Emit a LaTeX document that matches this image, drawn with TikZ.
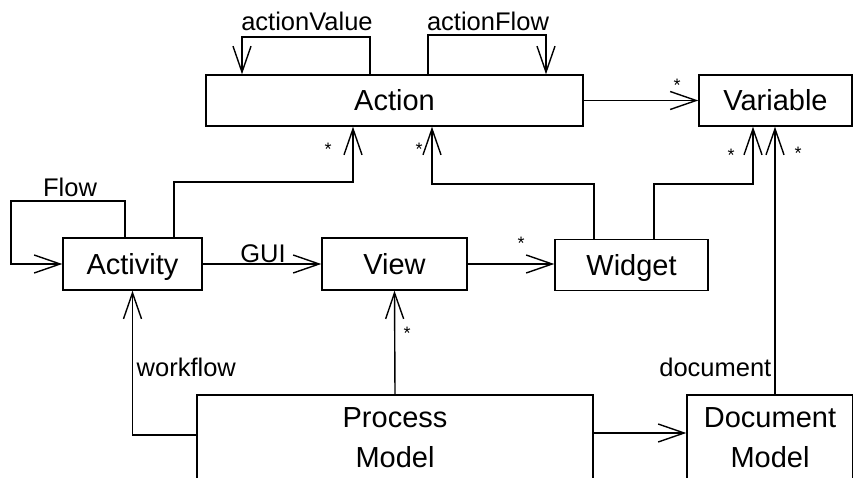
\documentclass[tikz,border=0pt]{standalone}
\usepackage{fontspec}
\setmainfont{Liberation Sans}
\usetikzlibrary{arrows.meta}
\begin{document}
\begin{tikzpicture}[x=1pt,y=-1pt,
  line width=1.4pt,
  box/.style={draw, rectangle, inner sep=0pt, font=\fontsize{29}{40}\selectfont, align=center},
  sline/.style={box, text height=20pt, text depth=0pt},
  arr/.style={-{Straight Barb[length=26pt,width=18pt,line width=1.4pt]}},
  lbl/.style={font=\fontsize{25.5}{28}\selectfont, inner sep=0pt},
  star/.style={font=\fontsize{18}{20}\selectfont, inner sep=0pt}]
\useasboundingbox (0,0) rectangle (853,478);
\clip (0,0) rectangle (853,478);
% boxes
\node[sline, minimum width=377pt, minimum height=51pt] (Action) at (394.5,100.5) {Action};
\node[sline, minimum width=153pt, minimum height=51pt] (Variable) at (775.5,100.5) {Variable};
\node[sline, minimum width=139pt, minimum height=52pt] (Activity) at (132.5,264) {Activity};
\node[sline, minimum width=145pt, minimum height=52pt] (View) at (394.5,264) {View};
\node[sline, minimum width=153pt, minimum height=51pt] (Widget) at (631.5,265) {Widget};
\node[box, minimum width=396pt, minimum height=86pt] (Process) at (395,438) {Process\\Model};
\node[box, minimum width=166pt, minimum height=86pt] (Document) at (770,438) {Document\\Model};
% self loops
\draw[arr] (370,0 |- Action.north) |- (242,37) -- (242,0 |- Action.north);
\node[lbl] (lav) at (307,21) {actionValue};
\draw[arr] (428,0 |- Action.north) |- (546,35) -- (546,0 |- Action.north);
\node[lbl] (laf) at (488,21) {actionFlow};
\draw[arr] (125,0 |- Activity.north) |- (11,201) |- (Activity.west);
\node[lbl] (lfl) at (70,187) {Flow};
% associations
\draw[arr] (Action.east) -- (Variable.west);
\node[star] (s1) at (677,85) {*};
\draw[arr] (174,0 |- Activity.north) |- (353,182) -- (353,0 |- Action.south);
\node[star] (s2) at (328,149) {*};
\draw[arr] (594,0 |- Widget.north) |- (432,184) -- (432,0 |- Action.south);
\node[star] (s3) at (419,149) {*};
\draw[arr] (654,0 |- Widget.north) |- (753,184) -- (753,0 |- Variable.south);
\node[star] (s4) at (731,155) {*};
\draw[arr] (775,0 |- Document.north) -- (775,0 |- Variable.south);
\node[star] (s5) at (798,153) {*};
\node[lbl, anchor=east] (ldoc) at (772,367) {document};
\draw[arr] (Activity.east) -- (View.west);
\node[lbl] (lgui) at (263,254) {GUI};
\draw[arr] (View.east) -- (Widget.west |- View.east);
\node[star] (s6) at (521,243) {*};
\draw[arr] (Process.north) -- (View.south);
\node[star] (s7) at (407,333) {*};
\draw[arr] (Process.west |- 0,435) -| (Activity.south);
\node[lbl, anchor=west] (lwf) at (136,367) {workflow};
\draw[arr] (Process.east |- 0,433) -- (Document.west |- 0,433);
\end{tikzpicture}
\end{document}
